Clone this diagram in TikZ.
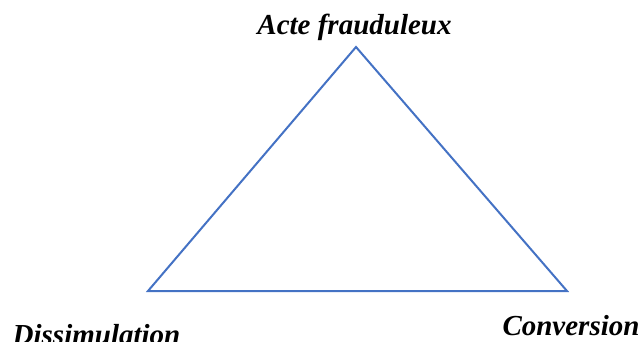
\documentclass[tikz,border=0pt]{standalone}
\usepackage{fontspec}
\setmainfont{Liberation Serif}
\definecolor{triblue}{HTML}{4472C4}
\begin{document}
\begin{tikzpicture}[x=1pt,y=1pt,
  lbl/.style={font=\fontsize{29}{34}\selectfont\bfseries\itshape, inner sep=0pt, anchor=base},
  edge/.style={draw=triblue, line width=2pt, line join=miter}]
\useasboundingbox (0,0) rectangle (640,341);
\coordinate (top) at (356,294);
\coordinate (bl) at (148,50);
\coordinate (br) at (567,50);
\draw[edge] (top) -- (bl) -- (br) -- cycle;
\node[lbl] (acte) at (354.5,306) {Acte frauduleux};
\node[lbl] (diss) at (96.5,-3) {Dissimulation};
\node[lbl] (conv) at (571,6) {Conversion};
\end{tikzpicture}
\end{document}
